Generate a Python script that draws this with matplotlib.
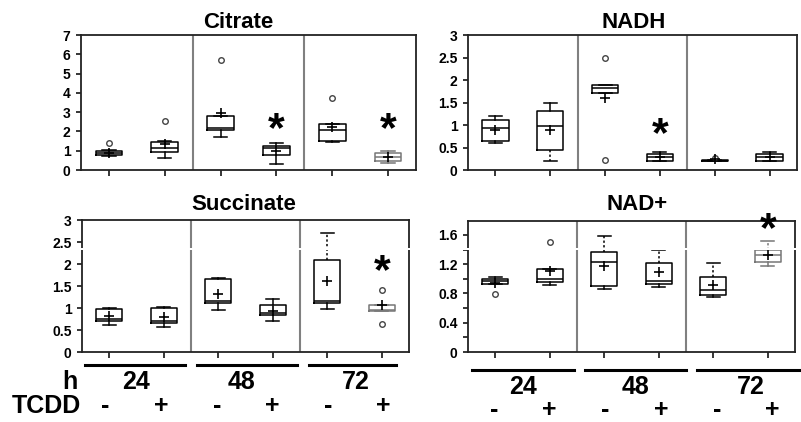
import matplotlib
matplotlib.use("Agg")
import matplotlib.pyplot as plt
from matplotlib.lines import Line2D
from matplotlib.patches import Rectangle
from matplotlib.ticker import MultipleLocator

plt.rcParams['font.family'] = ['Liberation Sans', 'DejaVu Sans']
plt.rcParams['font.weight'] = 'bold'

W, H = 801, 422

hours = ["24", "48", "72"]
tcdd = ["-", "+", "-", "+", "-", "+"]

# ---- Citrate ----
cit_q1 = [0.78, 0.95, 2.10, 0.78, 1.50, 0.47]
cit_med = [0.88, 1.12, 2.19, 1.12, 2.10, 0.69]
cit_q3 = [1.00, 1.47, 2.80, 1.26, 2.37, 0.86]
cit_wlo = [0.72, 0.64, 1.73, 0.30, 1.47, 0.35]
cit_whi = [1.05, 1.50, 2.80, 1.38, 2.37, 0.98]
cit_mean = [0.90, 1.35, 2.94, 1.00, 2.25, 0.65]
cit_fliers = [[1.42], [2.54], [5.70], [], [3.75], []]

# ---- NADH ----
nadh_q1 = [0.65, 0.44, 1.72, 0.21, 0.21, 0.21]
nadh_med = [0.94, 0.98, 1.83, 0.28, 0.21, 0.28]
nadh_q3 = [1.11, 1.31, 1.89, 0.36, 0.215, 0.35]
nadh_wlo = [0.59, 0.21, 1.72, 0.21, 0.21, 0.21]
nadh_whi = [1.19, 1.48, 1.89, 0.39, 0.22, 0.41]
nadh_mean = [0.89, 0.89, 1.61, 0.28, 0.25, 0.29]
nadh_fliers = [[], [], [2.50, 0.22], [], [0.27], []]

# ---- Succinate ----
suc_q1 = [0.70, 0.65, 1.11, 0.84, 1.12, 0.93]
suc_med = [0.74, 0.71, 1.17, 0.89, 1.15, 0.95]
suc_q3 = [0.98, 1.00, 1.66, 1.06, 2.10, 1.07]
suc_wlo = [0.61, 0.56, 0.95, 0.71, 0.98, 0.93]
suc_whi = [1.01, 1.03, 1.69, 1.21, 2.71, 1.07]
suc_mean = [0.82, 0.80, 1.31, 0.93, 1.62, 1.07]
suc_fliers = [[], [], [], [], [], [1.41, 0.63]]

# ---- NAD+ ----
nad_q1 = [0.93, 0.95, 0.90, 0.93, 0.78, 1.23]
nad_med = [0.97, 1.00, 1.23, 0.97, 0.85, 1.32]
nad_q3 = [1.00, 1.14, 1.36, 1.21, 1.02, 1.39]
nad_wlo = [0.93, 0.91, 0.86, 0.89, 0.75, 1.17]
nad_whi = [1.03, 1.14, 1.59, 1.40, 1.21, 1.51]
nad_mean = [0.94, 1.10, 1.18, 1.09, 0.92, 1.32]
nad_fliers = [[0.79], [1.50], [], [], [], []]

panels = [
    dict(title="Citrate", q1=cit_q1, med=cit_med, q3=cit_q3, wlo=cit_wlo, whi=cit_whi,
         mean=cit_mean, fliers=cit_fliers, ymax=7, major=1, minor=None,
         rect=(81, 35, 416, 170), title_xy=(238, 22),
         dashed_lo=[], dashed_hi=[], gray=[5], stars={3: 2.07, 5: 2.07}),
    dict(title="NADH", q1=nadh_q1, med=nadh_med, q3=nadh_q3, wlo=nadh_wlo, whi=nadh_whi,
         mean=nadh_mean, fliers=nadh_fliers, ymax=3, major=0.5, minor=None,
         rect=(468, 35, 797, 170), title_xy=(634, 22),
         dashed_lo=[1], dashed_hi=[], gray=[], stars={3: 0.78}),
    dict(title="Succinate", q1=suc_q1, med=suc_med, q3=suc_q3, wlo=suc_wlo, whi=suc_whi,
         mean=suc_mean, fliers=suc_fliers, ymax=3, major=0.5, minor=None,
         rect=(82, 220, 409, 352), title_xy=(244, 205),
         dashed_lo=[], dashed_hi=[4], gray=[5], stars={5: 1.82}),
    dict(title="NAD+", q1=nad_q1, med=nad_med, q3=nad_q3, wlo=nad_wlo, whi=nad_whi,
         mean=nad_mean, fliers=nad_fliers, ymax=1.79, major=0.4, minor=0.2,
         rect=(468, 221, 795, 352), title_xy=(637, 204),
         dashed_lo=[], dashed_hi=[2, 3, 4, 5], gray=[5], stars={5: 1.66}),
]

fig = plt.figure(figsize=(W / 100, H / 100), dpi=100)

for p in panels:
    x0, y0, x1, y1 = p["rect"]
    ax = fig.add_axes([x0 / W, 1 - y1 / H, (x1 - x0) / W, (y1 - y0) / H])
    stats = []
    for i in range(6):
        stats.append(dict(med=p["med"][i], q1=p["q1"][i], q3=p["q3"][i],
                          whislo=p["wlo"][i], whishi=p["whi"][i],
                          mean=p["mean"][i], fliers=p["fliers"][i]))
    res = ax.bxp(stats, positions=range(6), widths=0.48, capwidths=0.24,
                 showmeans=True, patch_artist=False,
                 boxprops=dict(color='black', lw=1.1),
                 medianprops=dict(color='black', lw=1.1),
                 whiskerprops=dict(color='black', lw=1.1),
                 capprops=dict(color='black', lw=1.1),
                 meanprops=dict(marker='+', markersize=6.5, markeredgecolor='black',
                                markeredgewidth=1.2),
                 flierprops=dict(marker='o', markersize=4, markerfacecolor='white',
                                 markeredgecolor='#444444', markeredgewidth=1.0))
    for i in p["dashed_lo"]:
        res['whiskers'][2 * i].set_linestyle((0, (1.5, 1.5)))
    for i in p["dashed_hi"]:
        res['whiskers'][2 * i + 1].set_linestyle((0, (1.5, 1.5)))
    for i in p["gray"]:
        for art in [res['boxes'][i], res['medians'][i], res['whiskers'][2 * i],
                    res['whiskers'][2 * i + 1], res['caps'][2 * i], res['caps'][2 * i + 1]]:
            art.set_color('#777777')
    for i, yv in p["stars"].items():
        ax.text(i, yv, "*", ha='center', va='center', fontsize=31, fontweight='bold')
    for xd in (1.5, 3.5):
        ax.axvline(xd, color='#808080', lw=1.5, zorder=0)
    ax.set_xlim(-0.5, 5.5)
    ax.set_ylim(0, p["ymax"])
    ax.yaxis.set_major_locator(MultipleLocator(p["major"]))
    if p["minor"]:
        ax.yaxis.set_minor_locator(MultipleLocator(p["minor"]))
    ax.set_xticks(range(6))
    ax.set_xticklabels([])
    ax.tick_params(axis='x', direction='out', length=4, width=1.1, color='black')
    ax.tick_params(axis='y', which='major', direction='out', length=3.5, width=1.1,
                   labelsize=10, pad=4)
    ax.tick_params(axis='y', which='minor', direction='out', length=3.5, width=1.1)
    labels = [("%g" % v) for v in ax.get_yticks()]
    ax.set_yticks(ax.get_yticks())
    ax.set_yticklabels(labels, fontweight='bold')
    ax.set_ylim(0, p["ymax"])
    for s in ax.spines.values():
        s.set_linewidth(1.3)
        s.set_color('#222222')
    tx, ty = p["title_xy"]
    fig.text(tx / W, 1 - ty / H, p["title"], ha='center', va='center',
             fontsize=16, fontweight='bold')

# group lines and labels under the bottom panels
def ftext(x, y, s, size=18):
    fig.text(x / W, 1 - y / H, s, ha='center', va='center', fontsize=size,
             fontweight='bold')

left_lines = [(85, 185), (197, 297), (309, 396)]
right_lines = [(472, 574), (585, 686), (697, 800)]
for (a, b) in left_lines:
    fig.add_artist(Line2D([a / W, b / W], [1 - 365 / H] * 2, color='black', lw=2.2))
for (a, b) in right_lines:
    fig.add_artist(Line2D([a / W, b / W], [1 - 370 / H] * 2, color='black', lw=2.2))

left_hour_x = [136, 241, 356]
right_hour_x = [523, 636, 751]
for hx, h in zip(left_hour_x, hours):
    ftext(hx, 382, h)
for hx, h in zip(right_hour_x, hours):
    ftext(hx, 387, h)
ftext(70, 382, "h")
ftext(46, 406, "TCDD")

left_sign_x = [105, 161, 217, 272, 328, 383]
right_sign_x = [494, 549, 605, 661, 717, 772]
for sx, s in zip(left_sign_x, tcdd):
    ftext(sx, 406, s)
for sx, s in zip(right_sign_x, tcdd):
    ftext(sx, 410, s)

# scanning artefact: thin white band across lower panels
fig.add_artist(Rectangle((0, 1 - 250 / H), 1, 2 / H, transform=fig.transFigure,
                         facecolor='white', edgecolor='none', zorder=10))

fig.savefig("out.png", dpi=100)
